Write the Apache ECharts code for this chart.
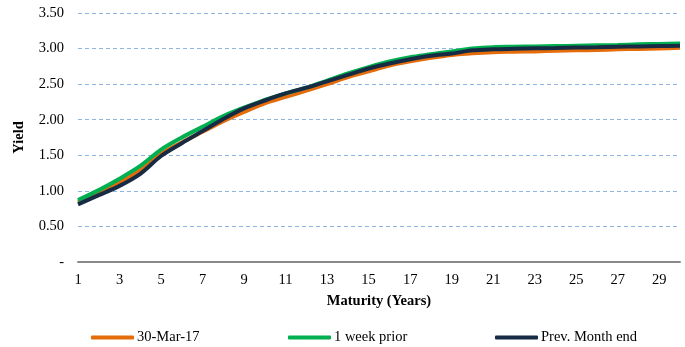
<!DOCTYPE html>
<html>
<head>
<meta charset="utf-8">
<script src="https://cdn.jsdelivr.net/npm/echarts@6/dist/echarts.min.js"></script>
<style>html,body{margin:0;padding:0;background:#fff}#c{width:685px;height:347px}</style>
</head>
<body>
<div id="c"></div>
<script>
const categories = ['1','2','3','4','5','6','7','8','9','10','11','12','13','14','15','16','17','18','19','20','21','22','23','24','25','26','27','28','29','30'];
const seriesNames = ['30-Mar-17', '1 week prior', 'Prev. Month end'];
const current = [0.84,0.98,1.12,1.29,1.52,1.68,1.83,1.98,2.11,2.23,2.32,2.41,2.50,2.60,2.68,2.76,2.82,2.87,2.91,2.935,2.95,2.955,2.96,2.97,2.975,2.98,2.99,2.995,3.00,3.01];
const weekPrior = [0.87,1.01,1.17,1.35,1.58,1.75,1.90,2.05,2.17,2.28,2.37,2.45,2.55,2.65,2.74,2.82,2.88,2.92,2.96,3.00,3.02,3.025,3.03,3.035,3.04,3.045,3.05,3.06,3.065,3.07];
const prevMonth = [0.81,0.94,1.07,1.24,1.49,1.67,1.84,2.01,2.16,2.27,2.37,2.45,2.54,2.63,2.72,2.79,2.85,2.90,2.93,2.975,2.99,2.997,3.003,3.008,3.014,3.019,3.025,3.03,3.035,3.04];
const colors = ['#E46C0A', '#00B050', '#172B45'];
const font = 'Liberation Serif';
const fs = 14.5;

const chart = echarts.init(document.getElementById('c'), null, {renderer: 'canvas'});
const values = [current, weekPrior, prevMonth];
const legendLefts = [86, 283, 490];
chart.setOption({
  animation: false,
  backgroundColor: '#fff',
  grid: {left: 78, right: 5, top: 13, bottom: 85, containLabel: false},
  legend: seriesNames.map((n, i) => ({
    data: [n], left: legendLefts[i], top: 325, itemWidth: 43, itemHeight: 4,
    icon: 'roundRect', selectedMode: false,
    textStyle: {fontFamily: font, fontSize: fs, color: '#000', padding: [0, 0, 0, -2]}
  })),
  xAxis: {
    type: 'category', data: categories, boundaryGap: false,
    name: 'Maturity (Years)', nameLocation: 'middle', nameGap: 32,
    nameTextStyle: {fontFamily: font, fontSize: fs, fontWeight: 'bold', color: '#000'},
    axisLine: {lineStyle: {color: '#898989', width: 2}},
    axisTick: {show: false},
    axisLabel: {interval: 1, fontFamily: font, fontSize: fs, color: '#000', margin: 11},
    splitLine: {show: false}
  },
  yAxis: {
    type: 'value', min: 0, max: 3.5, interval: 0.5,
    name: 'Yield', nameLocation: 'middle', nameGap: 51, nameRotate: 90,
    nameTextStyle: {fontFamily: font, fontSize: fs, fontWeight: 'bold', color: '#000'},
    axisLine: {show: false}, axisTick: {show: false},
    axisLabel: {fontFamily: font, fontSize: fs, color: '#000', margin: 14,
      formatter: v => v === 0 ? '-' : v.toFixed(2)},
    splitLine: {lineStyle: {color: '#8EB4E3', type: [4, 3], width: 1}}
  },
  series: seriesNames.map((n, i) => ({
    name: n, type: 'line', data: values[i], smooth: 0.3, symbol: 'none',
    lineStyle: {color: colors[i], width: 4}, itemStyle: {color: colors[i]}, z: 2 + i
  }))
});
</script>
</body>
</html>
